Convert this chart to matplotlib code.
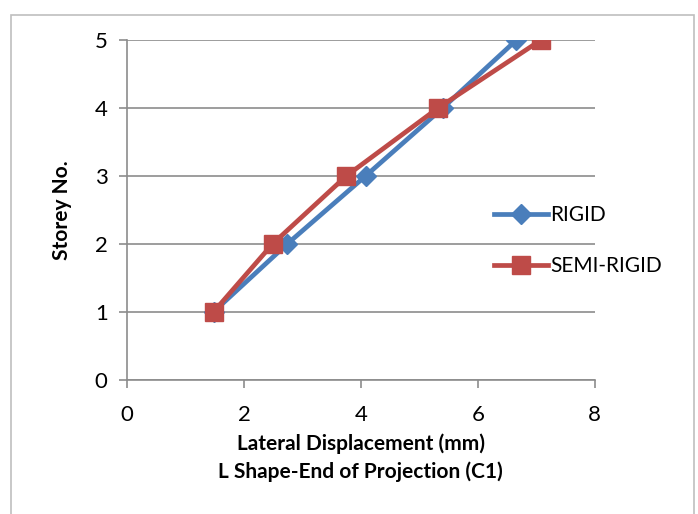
import matplotlib
matplotlib.use("Agg")
import matplotlib.pyplot as plt
from matplotlib.patches import Rectangle

plt.rcParams['font.family'] = ['Lato', 'DejaVu Sans']

storey = [1, 2, 3, 4, 5]
rigid = [1.48, 2.74, 4.08, 5.40, 6.66]
semi_rigid = [1.48, 2.49, 3.75, 5.32, 7.08]

fig = plt.figure(figsize=(6.98, 5.14), dpi=100)
fig.patches.append(Rectangle((0.016, -0.01), 0.978, 0.98, transform=fig.transFigure,
                             fill=False, edgecolor='#bfbfbf', linewidth=1.2))
ax = fig.add_axes([0.182, 0.261, 0.670, 0.661])

ax.plot(rigid, storey, color='#4a7ebb', lw=3.4, marker='D', markersize=10,
        label='RIGID', zorder=3)
ax.plot(semi_rigid, storey, color='#be4b48', lw=3.4, marker='s', markersize=13,
        label='SEMI-RIGID', zorder=4)

ax.set_xlim(0, 8)
ax.set_ylim(0, 5)
ax.set_xticks([0, 2, 4, 6, 8])
ax.set_yticks([0, 1, 2, 3, 4, 5])
ax.grid(axis='y', color='#8c8c8c', lw=1.2)
ax.set_axisbelow(True)
for s in ['top', 'right']:
    ax.spines[s].set_visible(False)
for s in ['left', 'bottom']:
    ax.spines[s].set_color('#8c8c8c')
    ax.spines[s].set_linewidth(1.2)
ax.tick_params(colors='#8c8c8c', width=1.2, length=6, labelsize=16, labelcolor='black')
ax.tick_params(axis='x', pad=12)
ax.tick_params(axis='y', pad=8)

ax.set_xlabel('Lateral Displacement (mm)\nL Shape-End of Projection (C1)',
              fontsize=15, fontweight='bold', linespacing=1.45, labelpad=6)
ax.set_ylabel('Storey No.', fontsize=15, fontweight='bold', labelpad=16)

ax.legend(loc='center left', bbox_to_anchor=(0.745, 0.41), frameon=False,
          fontsize=15, handlelength=2.6, handletextpad=0.1, labelspacing=1.5)

fig.savefig('out.png', dpi=100)
